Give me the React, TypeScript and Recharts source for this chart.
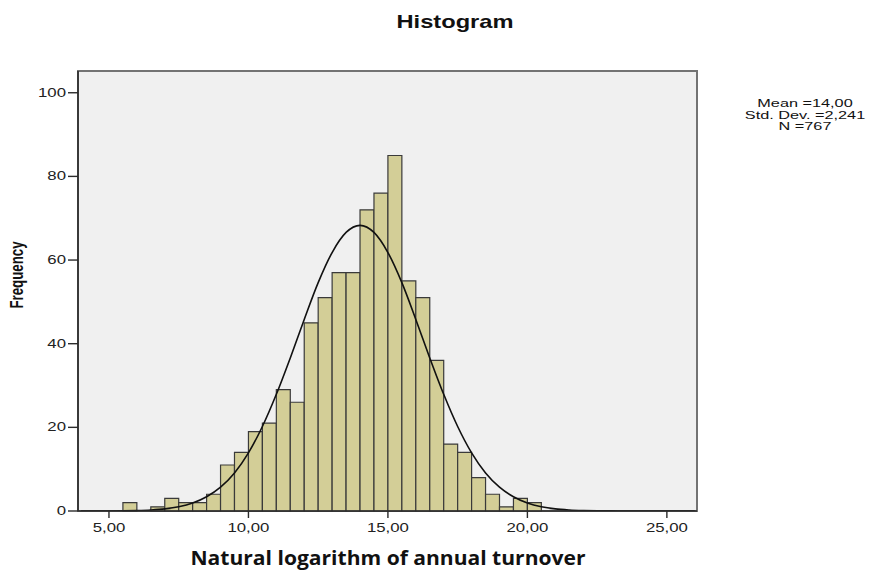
import React from 'react';
import {
  ComposedChart,
  Line,
  XAxis,
  YAxis,
  ReferenceArea,
} from 'recharts';

// Histogram bins (lower edge, width 0.5) and their frequencies
const BIN_WIDTH = 0.5;
const binLower = [
  5.5, 6.0, 6.5, 7.0, 7.5, 8.0, 8.5, 9.0, 9.5, 10.0, 10.5, 11.0, 11.5, 12.0, 12.5,
  13.0, 13.5, 14.0, 14.5, 15.0, 15.5, 16.0, 16.5, 17.0, 17.5, 18.0, 18.5, 19.0, 19.5, 20.0,
];
const binCount = [
  2, 0, 1, 3, 2, 2, 4, 11, 14, 19, 21, 29, 26, 45, 51,
  57, 57, 72, 76, 85, 55, 51, 36, 16, 14, 8, 4, 1, 3, 2,
];

// Normal curve
const curveX = [
  4, 4.5, 5, 5.5, 6, 6.5, 7, 7.5, 8, 8.5, 9, 9.5, 10, 10.5, 11, 11.5, 12, 12.5, 13, 13.5,
  14, 14.5, 15, 15.5, 16, 16.5, 17, 17.5, 18, 18.5, 19, 19.5, 20, 20.5, 21, 21.5, 22, 22.5,
  23, 23.5, 24, 24.5, 25, 25.5, 26,
];
const curveFreq = [
  0, 0, 0.01, 0.05, 0.12, 0.25, 0.5, 1.0, 1.9, 3.4, 5.7, 9.1, 13.9, 20.2, 27.9, 36.6, 45.8,
  54.6, 61.8, 66.6, 68.3, 66.6, 61.8, 54.6, 45.8, 36.6, 27.9, 20.2, 13.9, 9.1, 5.7, 3.4, 1.9,
  1.0, 0.5, 0.25, 0.12, 0.05, 0.02, 0.01, 0, 0, 0, 0, 0,
];

const xTicks = [5, 10, 15, 20, 25];
const yTicks = [0, 20, 40, 60, 80, 100];
const statLines = ['Mean =14,00', 'Std. Dev. =2,241', 'N =767'];

const X_DOMAIN: [number, number] = [3.89, 26.08];
const Y_DOMAIN: [number, number] = [0, 105.2];

const FONT = '"Liberation Sans", Arial, sans-serif';
const STRETCH = 1.4;

const curveData = curveX.map((x, i) => ({ x, freq: curveFreq[i] }));

const fmt = (v: number) => v.toFixed(2).replace('.', ',');

const XTick = (props: any) => {
  const { x, y, payload } = props;
  return (
    <text
      transform={`translate(${x},${y + 12}) scale(${STRETCH},1)`}
      textAnchor="middle"
      fontFamily={FONT}
      fontSize={12}
      fill="#222"
    >
      {fmt(payload.value)}
    </text>
  );
};

const YTick = (props: any) => {
  const { x, y, payload } = props;
  return (
    <text
      transform={`translate(${x},${y + 4}) scale(${STRETCH},1)`}
      textAnchor="end"
      fontFamily={FONT}
      fontSize={12}
      fill="#222"
    >
      {payload.value}
    </text>
  );
};

export default function App() {
  return (
    <div style={{ position: 'absolute', left: 0, top: 0, width: 872, height: 571, background: '#fff' }}>
      <ComposedChart
        width={872}
        height={571}
        data={curveData}
        margin={{ top: 71, right: 175, left: 18, bottom: 30 }}
      >
        {/* plot background + frame */}
        <ReferenceArea
          x1={X_DOMAIN[0]}
          x2={X_DOMAIN[1]}
          y1={Y_DOMAIN[0]}
          y2={Y_DOMAIN[1]}
          fill="#f0f0f0"
          fillOpacity={1}
          stroke="#737373"
          strokeWidth={2}
          ifOverflow="visible"
        />

        {/* bins */}
        {binLower.map((lo, i) =>
          binCount[i] > 0 ? (
            <ReferenceArea
              key={lo}
              x1={lo}
              x2={lo + BIN_WIDTH}
              y1={0}
              y2={binCount[i]}
              fill="#d3ce97"
              fillOpacity={1}
              stroke="#3a3a3a"
              strokeWidth={1.2}
            />
          ) : null
        )}

        <Line
          type="monotone"
          dataKey="freq"
          stroke="#111"
          strokeWidth={1.6}
          dot={false}
          activeDot={false}
          isAnimationActive={false}
        />

        <XAxis
          dataKey="x"
          type="number"
          domain={X_DOMAIN}
          ticks={xTicks}
          allowDataOverflow
          height={30}
          tickSize={7}
          tick={<XTick />}
          axisLine={{ stroke: '#2b2b2b', strokeWidth: 1.6 }}
          tickLine={{ stroke: '#2b2b2b', strokeWidth: 1.4 }}
        />
        <YAxis
          type="number"
          domain={Y_DOMAIN}
          ticks={yTicks}
          allowDataOverflow
          width={60}
          tickSize={10}
          tick={<YTick />}
          axisLine={{ stroke: '#2b2b2b', strokeWidth: 1.6 }}
          tickLine={{ stroke: '#2b2b2b', strokeWidth: 1.4 }}
        />
      </ComposedChart>

      {/* titles and stats */}
      <svg
        width={872}
        height={571}
        style={{ position: 'absolute', left: 0, top: 0, pointerEvents: 'none' }}
      >
        <text
          x={455}
          y={28}
          textAnchor="middle"
          fontFamily={FONT}
          fontWeight="bold"
          fontSize={19}
          textLength={117}
          lengthAdjust="spacingAndGlyphs"
          fill="#111"
        >
          Histogram
        </text>
        <text
          x={388}
          y={565}
          textAnchor="middle"
          fontFamily='"Open Sans", "DejaVu Sans", sans-serif'
          fontWeight="bold"
          fontSize={19}
          textLength={395}
          lengthAdjust="spacingAndGlyphs"
          fill="#111"
        >
          Natural logarithm of annual turnover
        </text>
        <text
          transform="translate(22.5,275) scale(1.4,1) rotate(-90)"
          textAnchor="middle"
          fontFamily={FONT}
          fontWeight="bold"
          fontSize={13}
          textLength={67}
          lengthAdjust="spacingAndGlyphs"
          fill="#111"
        >
          Frequency
        </text>
        {statLines.map((s, i) => (
          <text
            key={s}
            transform={`translate(805,${107 + i * 11.5}) scale(1.55,1)`}
            textAnchor="middle"
            fontFamily={FONT}
            fontSize={10.5}
            fill="#111"
          >
            {s}
          </text>
        ))}
      </svg>
    </div>
  );
}
